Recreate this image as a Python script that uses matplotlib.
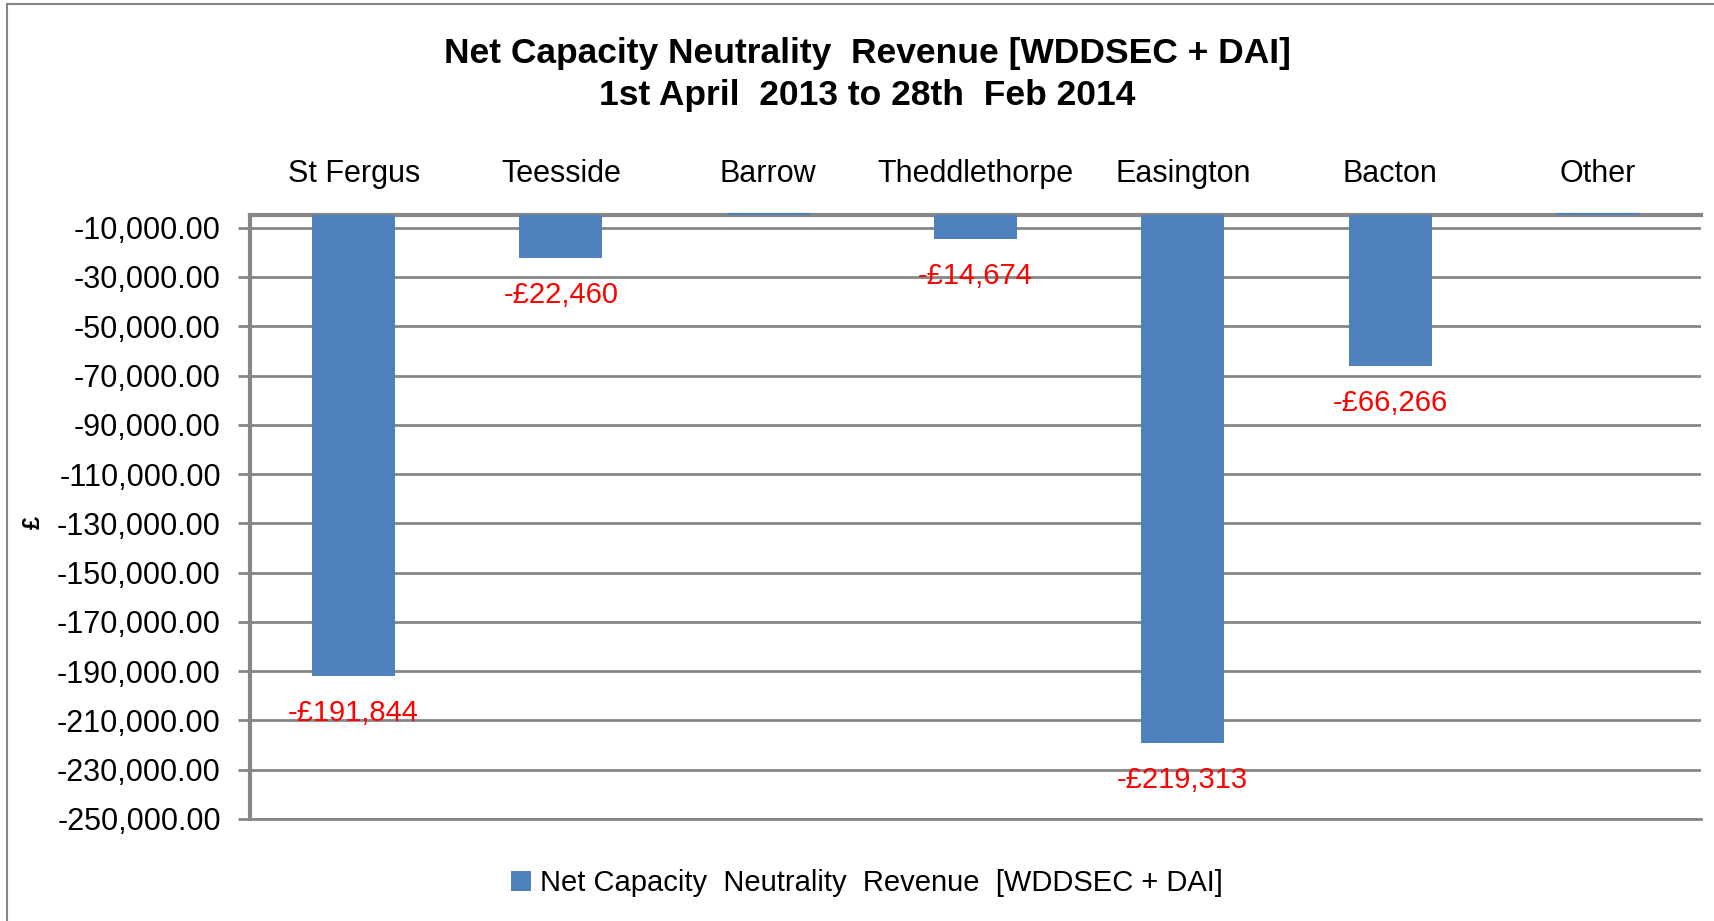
import matplotlib
matplotlib.use("Agg")
import matplotlib.pyplot as plt
from matplotlib.patches import Rectangle
from matplotlib.ticker import FuncFormatter
import numpy as np

categories = ["St Fergus", "Teesside", "Barrow", "Theddlethorpe", "Easington", "Bacton", "Other"]
values = [-191844, -22460, 0, -14674, -219313, -66266, 0]
data_labels = ["-£191,844", "-£22,460", "", "-£14,674", "-£219,313", "-£66,266", ""]
yticks = [-250000, -230000, -210000, -190000, -170000, -150000, -130000, -110000,
          -90000, -70000, -50000, -30000, -10000]
title_lines = ["Net Capacity Neutrality  Revenue [WDDSEC + DAI]", "1st April  2013 to 28th  Feb 2014"]
legend_label = "Net Capacity  Neutrality  Revenue  [WDDSEC + DAI]"

plt.rcParams['font.family'] = ['Liberation Sans', 'DejaVu Sans']

W, H = 1715, 921
fig = plt.figure(figsize=(W / 100, H / 100), dpi=100)
ax = fig.add_axes([250 / W, 1 - 819 / H, (1701 - 250) / W, (819 - 215.4) / H])

blue = "#4F81BD"
grey = "#868686"
x = np.arange(len(categories))
ymax = -5000
bars = ax.bar(x, values, width=0.40, color=blue, zorder=3, label=legend_label)
# zero-valued bars show as a thin line just above the axis
for xi, v in zip(x, values):
    if v == 0:
        ax.plot([xi - 0.2, xi + 0.2], [ymax + 700, ymax + 700], color=blue, lw=1.5,
                clip_on=False, zorder=4, solid_capstyle='butt')

ax.set_xlim(-0.5, len(categories) - 0.5)
ax.set_ylim(-250000, ymax)
ax.set_yticks(yticks)
ax.yaxis.set_major_formatter(FuncFormatter(lambda v, p: f"{v:,.2f}"))
ax.tick_params(axis='y', direction='out', length=9, width=2, color=grey, pad=12, labelsize=22)
ax.grid(axis='y', color=grey, lw=2, zorder=0)
ax.set_axisbelow(True)

ax.xaxis.tick_top()
ax.set_xticks(x)
ax.set_xticklabels(categories)
ax.tick_params(axis='x', length=0, pad=19, labelsize=22)

ax.spines['right'].set_visible(False)
ax.spines['bottom'].set_color(grey)
ax.spines['bottom'].set_linewidth(2)
for s in ['left', 'top']:
    ax.spines[s].set_color(grey)
    ax.spines[s].set_linewidth(3)

for xi, v, lab in zip(x, values, data_labels):
    if lab:
        ax.annotate(lab, (xi, v), xytext=(0, -26.5), textcoords='offset points',
                    ha='center', va='center', color='#FF0000', fontsize=21, zorder=5)

fig.text(867 / W, 1 - 53.5 / H, title_lines[0], ha='center', va='center', fontsize=25.5, fontweight='bold')
fig.text(867 / W, 1 - 95.5 / H, title_lines[1], ha='center', va='center', fontsize=25.5, fontweight='bold')
fig.text(33 / W, 1 - 522 / H, "£", ha='center', va='center', rotation=90, fontsize=17, fontweight='bold')

leg = fig.legend(handles=[bars], labels=[legend_label], loc='center', bbox_to_anchor=(867 / W, 1 - 883 / H),
                 frameon=False, fontsize=21, handlelength=0.7, handleheight=0.7, handletextpad=0.3)

fig.patches.append(Rectangle((7 / W, -0.1), 1.2, 1 - 4 / H + 0.1, transform=fig.transFigure,
                             fill=False, edgecolor=grey, lw=1.5))

fig.savefig("out.png", dpi=100)
